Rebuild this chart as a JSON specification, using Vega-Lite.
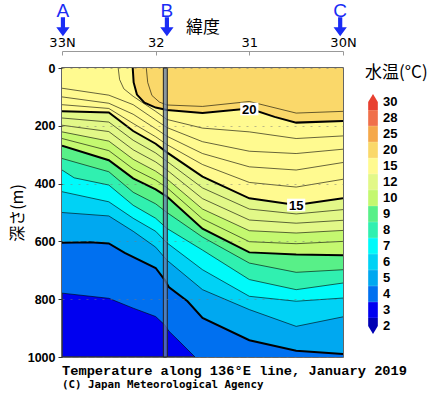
{
  "$schema": "https://vega.github.io/schema/vega-lite/v6.json",
  "width": 281,
  "height": 289,
  "autosize": {"type": "none"},
  "padding": {"left": 62, "top": 68, "right": 95, "bottom": 36},
  "background": "white",
  "config": {
    "view": {"stroke": "#333333", "strokeWidth": 1.5, "fill": "#0000f0"},
    "legend": {"padding": 0}
  },
  "title": {
    "text": "Temperature along 136°E line, January 2019",
    "subtitle": "(C) Japan Meteorological Agency",
    "orient": "bottom",
    "anchor": "start",
    "frame": "group",
    "font": "Liberation Mono",
    "fontSize": 13.7,
    "fontWeight": "bold",
    "color": "black",
    "subtitleFont": "DejaVu Sans Mono",
    "subtitleFontSize": 10.8,
    "subtitleFontWeight": "bold",
    "subtitleColor": "black",
    "offset": 0,
    "subtitlePadding": 2
  },
  "datasets": {
    "iso": [
      {"T": 4, "lat": 33.0, "depth": 779}, {"T": 4, "lat": 32.5, "depth": 797}, {"T": 4, "lat": 32.24, "depth": 831}, {"T": 4, "lat": 32.0, "depth": 860}, {"T": 4, "lat": 31.9, "depth": 890}, {"T": 4, "lat": 31.86, "depth": 910}, {"T": 4, "lat": 31.75, "depth": 945}, {"T": 4, "lat": 31.58, "depth": 1000}, {"T": 4, "lat": 31.4, "depth": 1060}, {"T": 4, "lat": 30.0, "depth": 1060},
      {"T": 5, "lat": 33.0, "depth": 605}, {"T": 5, "lat": 32.7, "depth": 603}, {"T": 5, "lat": 32.5, "depth": 607}, {"T": 5, "lat": 32.33, "depth": 640}, {"T": 5, "lat": 32.0, "depth": 692}, {"T": 5, "lat": 31.9, "depth": 735}, {"T": 5, "lat": 31.86, "depth": 758}, {"T": 5, "lat": 31.66, "depth": 807}, {"T": 5, "lat": 31.5, "depth": 865}, {"T": 5, "lat": 31.0, "depth": 942}, {"T": 5, "lat": 30.5, "depth": 978}, {"T": 5, "lat": 30.0, "depth": 990},
      {"T": 6, "lat": 33.0, "depth": 500}, {"T": 6, "lat": 32.5, "depth": 512}, {"T": 6, "lat": 32.24, "depth": 565}, {"T": 6, "lat": 32.0, "depth": 620}, {"T": 6, "lat": 31.88, "depth": 665}, {"T": 6, "lat": 31.5, "depth": 767}, {"T": 6, "lat": 31.0, "depth": 836}, {"T": 6, "lat": 30.5, "depth": 894}, {"T": 6, "lat": 30.0, "depth": 861},
      {"T": 7, "lat": 33.0, "depth": 428}, {"T": 7, "lat": 32.5, "depth": 463}, {"T": 7, "lat": 32.24, "depth": 520}, {"T": 7, "lat": 32.0, "depth": 565}, {"T": 7, "lat": 31.88, "depth": 605}, {"T": 7, "lat": 31.5, "depth": 698}, {"T": 7, "lat": 31.0, "depth": 790}, {"T": 7, "lat": 30.5, "depth": 807}, {"T": 7, "lat": 30.0, "depth": 796},
      {"T": 8, "lat": 33.0, "depth": 353}, {"T": 8, "lat": 32.87, "depth": 380}, {"T": 8, "lat": 32.5, "depth": 405}, {"T": 8, "lat": 32.24, "depth": 475}, {"T": 8, "lat": 32.0, "depth": 520}, {"T": 8, "lat": 31.88, "depth": 555}, {"T": 8, "lat": 31.5, "depth": 630}, {"T": 8, "lat": 31.0, "depth": 732}, {"T": 8, "lat": 30.5, "depth": 767}, {"T": 8, "lat": 30.0, "depth": 744},
      {"T": 9, "lat": 33.0, "depth": 313}, {"T": 9, "lat": 32.5, "depth": 359}, {"T": 9, "lat": 32.24, "depth": 430}, {"T": 9, "lat": 32.0, "depth": 470}, {"T": 9, "lat": 31.88, "depth": 500}, {"T": 9, "lat": 31.5, "depth": 585}, {"T": 9, "lat": 31.0, "depth": 675}, {"T": 9, "lat": 30.5, "depth": 707}, {"T": 9, "lat": 30.0, "depth": 698},
      {"T": 10, "lat": 33.0, "depth": 269}, {"T": 10, "lat": 32.5, "depth": 319}, {"T": 10, "lat": 32.24, "depth": 382}, {"T": 10, "lat": 32.0, "depth": 420}, {"T": 10, "lat": 31.88, "depth": 445}, {"T": 10, "lat": 31.5, "depth": 556}, {"T": 10, "lat": 31.0, "depth": 638}, {"T": 10, "lat": 30.5, "depth": 645}, {"T": 10, "lat": 30.0, "depth": 648},
      {"T": 11, "lat": 33.0, "depth": 244}, {"T": 11, "lat": 32.5, "depth": 286}, {"T": 11, "lat": 32.24, "depth": 349}, {"T": 11, "lat": 32.0, "depth": 388}, {"T": 11, "lat": 31.88, "depth": 414}, {"T": 11, "lat": 31.5, "depth": 522}, {"T": 11, "lat": 31.0, "depth": 601}, {"T": 11, "lat": 30.5, "depth": 608}, {"T": 11, "lat": 30.0, "depth": 600},
      {"T": 12, "lat": 33.0, "depth": 221}, {"T": 12, "lat": 32.5, "depth": 253}, {"T": 12, "lat": 32.24, "depth": 316}, {"T": 12, "lat": 32.0, "depth": 357}, {"T": 12, "lat": 31.88, "depth": 384}, {"T": 12, "lat": 31.5, "depth": 488}, {"T": 12, "lat": 31.0, "depth": 563}, {"T": 12, "lat": 30.5, "depth": 571}, {"T": 12, "lat": 30.0, "depth": 562},
      {"T": 13, "lat": 33.0, "depth": 198}, {"T": 13, "lat": 32.5, "depth": 220}, {"T": 13, "lat": 32.24, "depth": 283}, {"T": 13, "lat": 32.0, "depth": 325}, {"T": 13, "lat": 31.88, "depth": 353}, {"T": 13, "lat": 31.5, "depth": 452}, {"T": 13, "lat": 31.0, "depth": 526}, {"T": 13, "lat": 30.5, "depth": 537}, {"T": 13, "lat": 30.0, "depth": 527},
      {"T": 14, "lat": 33.0, "depth": 173}, {"T": 14, "lat": 32.5, "depth": 187}, {"T": 14, "lat": 32.24, "depth": 250}, {"T": 14, "lat": 32.0, "depth": 294}, {"T": 14, "lat": 31.88, "depth": 323}, {"T": 14, "lat": 31.5, "depth": 415}, {"T": 14, "lat": 31.0, "depth": 488}, {"T": 14, "lat": 30.5, "depth": 505}, {"T": 14, "lat": 30.0, "depth": 490},
      {"T": 15, "lat": 33.0, "depth": 150}, {"T": 15, "lat": 32.5, "depth": 154}, {"T": 15, "lat": 32.24, "depth": 218}, {"T": 15, "lat": 32.0, "depth": 262}, {"T": 15, "lat": 31.88, "depth": 292}, {"T": 15, "lat": 31.5, "depth": 376}, {"T": 15, "lat": 31.0, "depth": 451}, {"T": 15, "lat": 30.5, "depth": 474}, {"T": 15, "lat": 30.0, "depth": 451},
      {"T": 16, "lat": 33.0, "depth": 127}, {"T": 16, "lat": 32.5, "depth": 140}, {"T": 16, "lat": 32.24, "depth": 192}, {"T": 16, "lat": 32.0, "depth": 238}, {"T": 16, "lat": 31.88, "depth": 265}, {"T": 16, "lat": 31.5, "depth": 334}, {"T": 16, "lat": 31.0, "depth": 396}, {"T": 16, "lat": 30.5, "depth": 412}, {"T": 16, "lat": 30.0, "depth": 385},
      {"T": 17, "lat": 33.0, "depth": 100}, {"T": 17, "lat": 32.5, "depth": 122}, {"T": 17, "lat": 32.24, "depth": 160}, {"T": 17, "lat": 32.0, "depth": 210}, {"T": 17, "lat": 31.88, "depth": 236}, {"T": 17, "lat": 31.5, "depth": 296}, {"T": 17, "lat": 31.0, "depth": 342}, {"T": 17, "lat": 30.5, "depth": 353}, {"T": 17, "lat": 30.0, "depth": 327},
      {"T": 18, "lat": 33.0, "depth": 70}, {"T": 18, "lat": 32.5, "depth": 94}, {"T": 18, "lat": 32.24, "depth": 127}, {"T": 18, "lat": 32.0, "depth": 180}, {"T": 18, "lat": 31.88, "depth": 206}, {"T": 18, "lat": 31.5, "depth": 255}, {"T": 18, "lat": 31.0, "depth": 288}, {"T": 18, "lat": 30.5, "depth": 296}, {"T": 18, "lat": 30.0, "depth": 281},
      {"T": 19, "lat": 32.40, "depth": 0}, {"T": 19, "lat": 32.385, "depth": 40}, {"T": 19, "lat": 32.34, "depth": 72}, {"T": 19, "lat": 32.24, "depth": 98}, {"T": 19, "lat": 32.0, "depth": 150}, {"T": 19, "lat": 31.88, "depth": 178}, {"T": 19, "lat": 31.5, "depth": 208}, {"T": 19, "lat": 31.0, "depth": 221}, {"T": 19, "lat": 30.5, "depth": 244}, {"T": 19, "lat": 30.0, "depth": 235},
      {"T": 20, "lat": 32.245, "depth": 0}, {"T": 20, "lat": 32.235, "depth": 50}, {"T": 20, "lat": 32.20, "depth": 92}, {"T": 20, "lat": 32.12, "depth": 120}, {"T": 20, "lat": 32.0, "depth": 137}, {"T": 20, "lat": 31.88, "depth": 145}, {"T": 20, "lat": 31.5, "depth": 156}, {"T": 20, "lat": 31.0, "depth": 140}, {"T": 20, "lat": 30.73, "depth": 169}, {"T": 20, "lat": 30.5, "depth": 189}, {"T": 20, "lat": 30.0, "depth": 183},
      {"T": 21, "lat": 32.10, "depth": 0}, {"T": 21, "lat": 32.085, "depth": 50}, {"T": 21, "lat": 32.04, "depth": 95}, {"T": 21, "lat": 31.96, "depth": 118}, {"T": 21, "lat": 31.88, "depth": 128}, {"T": 21, "lat": 31.5, "depth": 133}, {"T": 21, "lat": 31.0, "depth": 116}, {"T": 21, "lat": 30.5, "depth": 156}, {"T": 21, "lat": 30.0, "depth": 150}
    ],
    "labels": [
      {"label": "20", "lat": 31.0, "depth": 142},
      {"label": "15", "lat": 30.5, "depth": 474}
    ],
    "gap": [
      {"lat": 31.918, "lat2": 31.876}
    ],
    "stations": [
      {"station": "A", "lat": 32.99},
      {"station": "B", "lat": 31.88},
      {"station": "C", "lat": 30.03}
    ]
  },
  "layer": [
    {
      "data": {"name": "iso"},
      "transform": [{"filter": {"field": "T", "oneOf": [4, 5, 6, 7, 8, 9, 10, 12, 15, 20]}}],
      "mark": {"type": "area", "clip": true, "interpolate": "linear"},
      "encoding": {
        "x": {
          "field": "lat", "type": "quantitative",
          "scale": {"domain": [33, 30], "nice": false, "zero": false},
          "axis": {
            "orient": "top", "offset": 17, "values": [33, 32, 31, 30], "format": "d",
            "labelExpr": "datum.value == 33 ? '33N' : (datum.value == 30 ? '30N' : datum.label)",
            "title": "緯度", "titleFont": "Noto Sans CJK JP", "titleFontSize": 17, "titleFontWeight": "normal", "titleColor": "black", "titlePadding": 0,
            "labelFont": "DejaVu Sans", "labelFontSize": 13, "labelColor": "black", "labelFlush": false,
            "domainColor": "#999999", "tickColor": "#999999", "tickSize": -4, "labelPadding": 6, "grid": false
          }
        },
        "y": {
          "field": "depth", "type": "quantitative", "stack": null,
          "scale": {"domain": [0, 1000], "reverse": true, "nice": false, "zero": false},
          "axis": {
            "values": [0, 100, 200, 300, 400, 500, 600, 700, 800, 900, 1000], "format": "d",
            "labelFont": "Liberation Sans", "labelFontWeight": "bold", "labelFontSize": 12.5, "labelColor": "black",
            "tickColor": "#333333", "tickSize": 4, "labelPadding": 3, "domain": false,
            "grid": true, "gridColor": "#777777", "gridDash": [2, 6], "gridOpacity": 0.5, "zindex": 1,
            "title": "深さ(m)", "titleFont": "Noto Sans CJK JP", "titleFontSize": 16, "titleFontWeight": "normal", "titleColor": "black", "titlePadding": 2
          }
        },
        "y2": {"datum": 0},
        "color": {
          "field": "T", "type": "ordinal",
          "scale": {
            "domain": [30, 28, 25, 20, 15, 12, 10, 9, 8, 7, 6, 5, 4, 3, 2, 1],
            "range": ["#e84030", "#f0704a", "#f5a84a", "#fad86a", "#fffa90", "#e2f888", "#c4f870", "#58f088", "#30f0b0", "#00fafa", "#00d2f5", "#00a8f0", "#0070f0", "#0000f0", "#0000b4", "#000080"]
          },
          "legend": {
            "orient": "none", "legendX": 303, "legendY": -3, "direction": "vertical",
            "values": [30, 28, 25, 20, 15, 12, 10, 9, 8, 7, 6, 5, 4, 3, 2],
            "title": "水温(°C)", "titleFont": "Noto Sans CJK JP", "titleFontSize": 17, "titleFontWeight": "normal", "titleColor": "black", "titlePadding": 12,
            "symbolType": "M-0.61,-1L0.61,-1L0.61,1L-0.61,1Z", "symbolSize": 250, "symbolStrokeWidth": 0, "symbolOpacity": 1,
            "rowPadding": 0,
            "labelFont": "Liberation Sans", "labelFontWeight": "bold", "labelFontSize": 13, "labelColor": "black", "labelOffset": 2, "labelBaseline": "middle",
            "encode": {
              "symbols": {
                "update": {
                  "shape": {"signal": "datum.value == 30 ? 'M0,-1L0.61,0L0.61,1L-0.61,1L-0.61,0Z' : (datum.value == 2 ? 'M-0.61,-1L0.61,-1L0.61,0L0,1L-0.61,0Z' : 'M-0.61,-1L0.61,-1L0.61,1L-0.61,1Z')"},
                  "fill": {"signal": "{gradient: 'linear', x1: 0, y1: 0, x2: 0, y2: 1, stops: [{offset: 0, color: ['#e84030', '#f0704a', '#f5a84a', '#fad86a', '#fffa90', '#e2f888', '#c4f870', '#58f088', '#30f0b0', '#00fafa', '#00d2f5', '#00a8f0', '#0070f0', '#0000f0', '#0000b4'][indexof([30, 28, 25, 20, 15, 12, 10, 9, 8, 7, 6, 5, 4, 3, 2], datum.value)]}, {offset: 0.46, color: ['#e84030', '#f0704a', '#f5a84a', '#fad86a', '#fffa90', '#e2f888', '#c4f870', '#58f088', '#30f0b0', '#00fafa', '#00d2f5', '#00a8f0', '#0070f0', '#0000f0', '#0000b4'][indexof([30, 28, 25, 20, 15, 12, 10, 9, 8, 7, 6, 5, 4, 3, 2], datum.value)]}, {offset: 0.46, color: '#222222'}, {offset: 0.54, color: '#222222'}, {offset: 0.54, color: ['#f0704a', '#f5a84a', '#fad86a', '#fffa90', '#e2f888', '#c4f870', '#58f088', '#30f0b0', '#00fafa', '#00d2f5', '#00a8f0', '#0070f0', '#0000f0', '#0000b4', '#000080'][indexof([30, 28, 25, 20, 15, 12, 10, 9, 8, 7, 6, 5, 4, 3, 2], datum.value)]}, {offset: 1, color: ['#f0704a', '#f5a84a', '#fad86a', '#fffa90', '#e2f888', '#c4f870', '#58f088', '#30f0b0', '#00fafa', '#00d2f5', '#00a8f0', '#0070f0', '#0000f0', '#0000b4', '#000080'][indexof([30, 28, 25, 20, 15, 12, 10, 9, 8, 7, 6, 5, 4, 3, 2], datum.value)]}]}"}
                }
              }
            }
          }
        }
      }
    },
    {
      "data": {"name": "iso"},
      "mark": {"type": "line", "clip": true, "interpolate": "linear", "color": "black"},
      "encoding": {
        "x": {"field": "lat", "type": "quantitative"},
        "y": {"field": "depth", "type": "quantitative"},
        "detail": {"field": "T", "type": "nominal"},
        "strokeWidth": {"condition": {"test": "datum.T % 5 === 0", "value": 2}, "value": 0.8},
        "strokeOpacity": {"condition": {"test": "datum.T % 5 === 0", "value": 1}, "value": 0.75}
      }
    },
    {
      "data": {"name": "gap"},
      "mark": {"type": "rect", "fill": "#6482b0", "fillOpacity": 0.75, "stroke": "#222222", "strokeWidth": 1},
      "encoding": {
        "x": {"field": "lat", "type": "quantitative"},
        "x2": {"field": "lat2"},
        "y": {"datum": 0},
        "y2": {"datum": 1000}
      }
    },
    {
      "data": {"name": "labels"},
      "mark": {"type": "point", "shape": "M-1.3,-0.9L1.3,-0.9L1.3,0.9L-1.3,0.9Z", "size": 196, "filled": true, "fill": "white", "opacity": 1, "strokeWidth": 0},
      "encoding": {
        "x": {"field": "lat", "type": "quantitative"},
        "y": {"field": "depth", "type": "quantitative"}
      }
    },
    {
      "data": {"name": "labels"},
      "mark": {"type": "text", "font": "Liberation Sans", "fontWeight": "bold", "fontSize": 13, "color": "black", "baseline": "middle", "align": "center", "dy": 1},
      "encoding": {
        "x": {"field": "lat", "type": "quantitative"},
        "y": {"field": "depth", "type": "quantitative"},
        "text": {"field": "label"}
      }
    },
    {
      "data": {"name": "stations"},
      "mark": {"type": "text", "font": "Liberation Sans", "fontSize": 19, "color": "#1a2cf5", "baseline": "middle", "align": "center"},
      "encoding": {
        "x": {"field": "lat", "type": "quantitative"},
        "y": {"datum": -197},
        "text": {"field": "station"}
      }
    },
    {
      "data": {"name": "stations"},
      "mark": {"type": "point", "shape": "M-0.22,-1L0.22,-1L0.22,0.05L0.7,0.05L0,1L-0.7,0.05L-0.22,0.05Z", "size": 361, "filled": true, "fill": "#1a2cf5", "opacity": 1, "strokeWidth": 0},
      "encoding": {
        "x": {"field": "lat", "type": "quantitative"},
        "y": {"datum": -143}
      }
    }
  ]
}
